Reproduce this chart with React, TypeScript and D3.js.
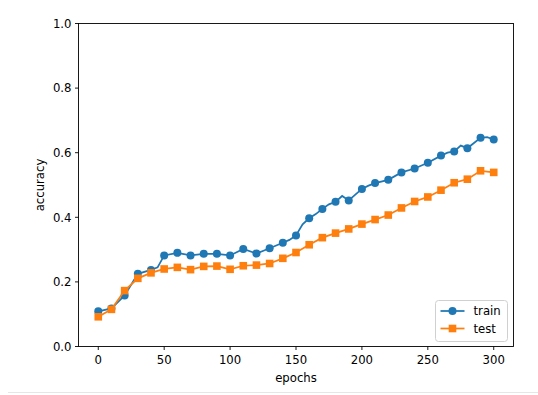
import React from "react";
import * as d3 from "d3";

// accuracy, one marker every 10 epochs
const markerEpochs = [0, 10, 20, 30, 40, 50, 60, 70, 80, 90, 100, 110, 120, 130, 140, 150,
  160, 170, 180, 190, 200, 210, 220, 230, 240, 250, 260, 270, 280, 290, 300];
const trainAcc = [0.109, 0.118, 0.158, 0.225, 0.237, 0.282, 0.290, 0.282, 0.287, 0.287, 0.282,
  0.302, 0.288, 0.304, 0.321, 0.344, 0.397, 0.426, 0.448, 0.452, 0.488, 0.506, 0.516, 0.539,
  0.551, 0.569, 0.591, 0.604, 0.614, 0.646, 0.641];
const testAcc = [0.092, 0.115, 0.173, 0.211, 0.228, 0.240, 0.245, 0.238, 0.248, 0.249, 0.239,
  0.250, 0.252, 0.257, 0.273, 0.291, 0.315, 0.337, 0.351, 0.364, 0.379, 0.393, 0.407, 0.429,
  0.449, 0.463, 0.484, 0.507, 0.518, 0.544, 0.539];

// extra points between markers where the train line wiggles
const trainExtraEpochs = [45, 145, 155, 165, 175, 185, 195, 205, 265, 275, 285, 295];
const trainExtraAcc = [0.245, 0.33, 0.378, 0.41, 0.44, 0.466, 0.47, 0.498, 0.60, 0.622, 0.63, 0.648];

const xTicks = [0, 50, 100, 150, 200, 250, 300];
const yTicks = [0.0, 0.2, 0.4, 0.6, 0.8, 1.0];

const W = 538;
const H = 395;
const left = 78.5;
const right = 513.5;
const top = 23.5;
const bottom = 346.5;
const blue = "#1f77b4";
const orange = "#ff7f0e";
const font = "DejaVu Sans, sans-serif";

export default function App() {
  const x = d3.scaleLinear().domain([-15, 315]).range([left, right]);
  const y = d3.scaleLinear().domain([0, 1]).range([bottom, top]);

  const trainPts: [number, number][] = markerEpochs
    .map((e, i) => [e, trainAcc[i]] as [number, number])
    .concat(trainExtraEpochs.map((e, i) => [e, trainExtraAcc[i]] as [number, number]))
    .sort((a, b) => a[0] - b[0]);
  const testPts: [number, number][] = markerEpochs.map((e, i) => [e, testAcc[i]]);

  const line = d3.line<[number, number]>().x(d => x(d[0])).y(d => y(d[1]));

  const lw = 1.75;
  const r = 4;
  const sq = 7.6;

  const legX = 435.5;
  const legY = 300.5;

  return (
    <svg width={W} height={H} style={{ position: "absolute", left: 0, top: 0 }}>
      <rect x={0} y={0} width={W} height={H} fill="white" />
      <line x1={8} x2={W} y1={392.5} y2={392.5} stroke="#e6e6e6" strokeWidth={1} />

      {/* lines */}
      <path d={line(trainPts) || ""} fill="none" stroke={blue} strokeWidth={lw} />
      {markerEpochs.map((e, i) => (
        <circle key={"c" + i} cx={x(e)} cy={y(trainAcc[i])} r={r} fill={blue} />
      ))}
      <path d={line(testPts) || ""} fill="none" stroke={orange} strokeWidth={lw} />
      {markerEpochs.map((e, i) => (
        <rect key={"s" + i} x={x(e) - sq / 2} y={y(testAcc[i]) - sq / 2} width={sq} height={sq} fill={orange} />
      ))}

      {/* frame */}
      <rect x={left} y={top} width={right - left} height={bottom - top} fill="none" stroke="#000" strokeWidth={0.9} />

      {/* x axis */}
      {xTicks.map(t => (
        <g key={"x" + t}>
          <line x1={x(t)} x2={x(t)} y1={bottom} y2={bottom + 3.5} stroke="#000" strokeWidth={0.9} />
          <text x={x(t)} y={bottom + 17} textAnchor="middle" fontFamily={font} fontSize={11.7} fill="#000">{t}</text>
        </g>
      ))}
      <text x={(left + right) / 2} y={382} textAnchor="middle" fontFamily={font} fontSize={11.7} fill="#000">epochs</text>

      {/* y axis */}
      {yTicks.map(t => (
        <g key={"y" + t}>
          <line x1={left - 3.5} x2={left} y1={y(t)} y2={y(t)} stroke="#000" strokeWidth={0.9} />
          <text x={left - 7} y={y(t) + 4.2} textAnchor="end" fontFamily={font} fontSize={11.7} fill="#000">{d3.format(".1f")(t)}</text>
        </g>
      ))}
      <text transform={`translate(44,${(top + bottom) / 2}) rotate(-90)`} textAnchor="middle" fontFamily={font} fontSize={11.7} fill="#000">accuracy</text>

      {/* legend */}
      <rect x={legX} y={legY} width={72} height={41} rx={3} fill="white" fillOpacity={0.8} stroke="#d0d0d0" strokeWidth={1} />
      <line x1={legX + 5} x2={legX + 29} y1={legY + 10.5} y2={legY + 10.5} stroke={blue} strokeWidth={lw} />
      <circle cx={legX + 17} cy={legY + 10.5} r={r} fill={blue} />
      <text x={legX + 38} y={legY + 14.5} fontFamily={font} fontSize={11.7} fill="#000">train</text>
      <line x1={legX + 5} x2={legX + 29} y1={legY + 28} y2={legY + 28} stroke={orange} strokeWidth={lw} />
      <rect x={legX + 17 - sq / 2} y={legY + 28 - sq / 2} width={sq} height={sq} fill={orange} />
      <text x={legX + 38} y={legY + 32} fontFamily={font} fontSize={11.7} fill="#000">test</text>
    </svg>
  );
}
